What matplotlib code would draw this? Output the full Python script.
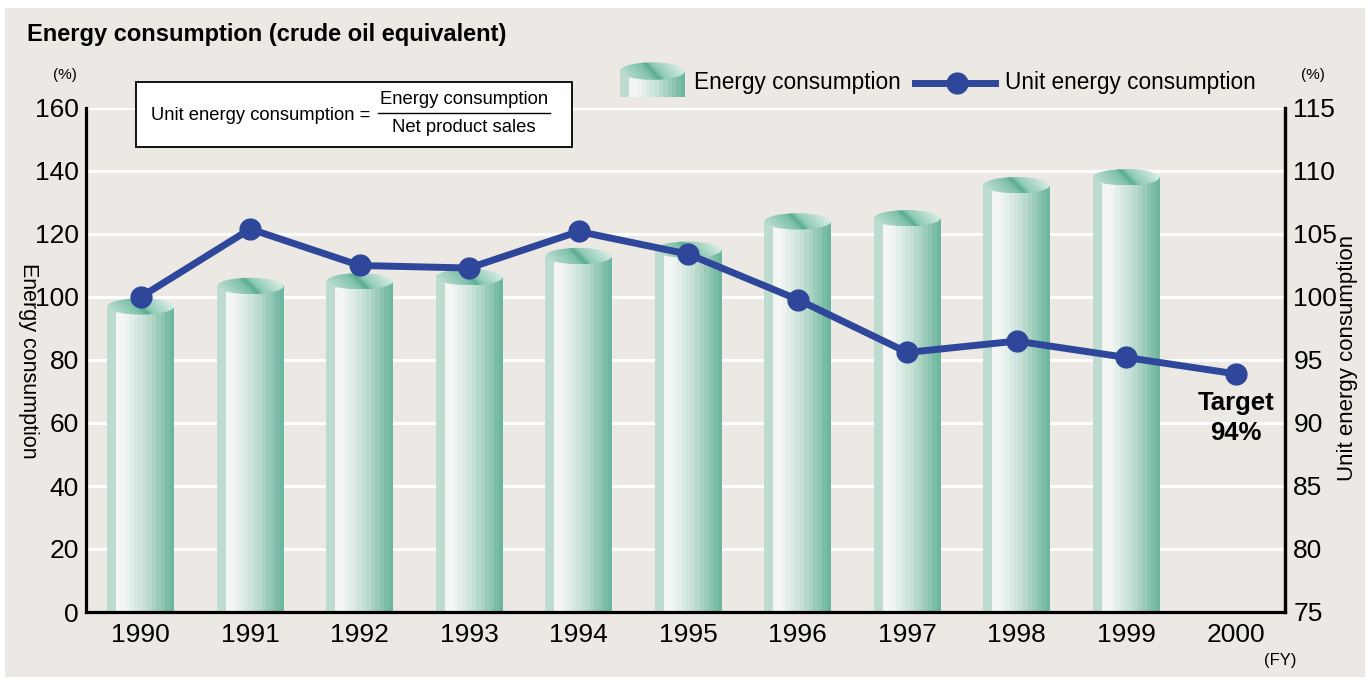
import numpy as np
import matplotlib.pyplot as plt
from matplotlib.patches import Ellipse, Rectangle
from matplotlib.colors import to_rgb
from matplotlib.lines import Line2D

plt.rcParams['font.family'] = ['Liberation Sans', 'DejaVu Sans']

# data
years = ['1990', '1991', '1992', '1993', '1994', '1995', '1996', '1997', '1998', '1999', '2000']
energy = [97, 103.5, 105, 106.3, 113, 115, 124, 125, 135.5, 138]      # %, left axis
unit_energy = [100, 105.4, 102.5, 102.3, 105.2, 103.4, 99.8, 95.6, 96.5, 95.2, 93.9]  # %, right axis

panel_col = '#ece8e4'
line_col = '#2f479b'

# stripe colours of the cylinder body (left -> right)
body_cols = ['#bddccf', '#bddccf', '#f3f6f2', '#f3f6f2', '#eef3ef', '#e2eee9', '#d8e9e2',
             '#cfe4dc', '#c4dfd4', '#b7d9cc', '#a9d2c3', '#9acbb9', '#8bc4b0', '#7bbca6', '#6db6a0']
body_rgb = np.array([to_rgb(c) for c in body_cols])[None, :, :]


def cap_image(n=60):
    xx, yy = np.meshgrid(np.linspace(0, 1, n), np.linspace(0, 1, n))
    t = np.clip(xx + 0.25 * (yy - 0.5), 0, 1)
    stops = [0.0, 0.4, 0.5, 0.6, 1.0]
    cols = np.array([to_rgb(c) for c in ['#b9ddd0', '#80c1ab', '#5aac92', '#8fcbb7', '#d9ece4']])
    img = np.zeros((n, n, 3))
    for k in range(3):
        img[:, :, k] = np.interp(t, stops, cols[:, k])
    return img


CAP = cap_image()


def cylinder(ax, x, h, w, cap_h, z=2):
    ax.imshow(body_rgb, extent=[x - w / 2, x + w / 2, 0, h], aspect='auto',
              interpolation='nearest', zorder=z)
    ell = Ellipse((x, h), w, cap_h, transform=ax.transData, facecolor='none', edgecolor='none')
    ax.add_patch(ell)
    im = ax.imshow(CAP, extent=[x - w / 2, x + w / 2, h - cap_h / 2, h + cap_h / 2],
                   aspect='auto', interpolation='bilinear', zorder=z + 0.1, origin='lower')
    im.set_clip_path(ell)


fig = plt.figure(figsize=(13.7, 6.82), dpi=100, facecolor='white')
fig.add_artist(Rectangle((5 / 1370, 5 / 682), 1360 / 1370, 669 / 682, transform=fig.transFigure,
                         facecolor=panel_col, edgecolor='none', zorder=-10))

ax1 = fig.add_axes([86 / 1370, 1 - 612 / 682, 1199 / 1370, 504 / 682])
ax1.set_facecolor(panel_col)
x = np.arange(len(years))
for i, v in enumerate(energy):
    cylinder(ax1, x[i], v, 0.61, 5.2)
ax1.set_xlim(-0.5, 10.45)
ax1.set_ylim(0, 160)
ax1.set_yticks(range(0, 161, 20))
ax1.set_xticks(x)
ax1.set_xticklabels(years)
ax1.grid(axis='y', color='white', lw=2.2, zorder=0)
ax1.set_axisbelow(True)
ax1.tick_params(length=0, labelsize=19, pad=5)
ax1.tick_params(axis='x', pad=8)
ax1.spines['top'].set_visible(False)
for s in ['left', 'bottom', 'right']:
    ax1.spines[s].set_linewidth(2.3)

ax2 = ax1.twinx()
ax2.plot(x, unit_energy, color=line_col, lw=5, marker='o', markersize=15, zorder=5)
ax2.set_ylim(75, 115)
ax2.set_yticks(range(75, 116, 5))
ax2.tick_params(length=0, labelsize=19, pad=6)
ax2.spines['top'].set_visible(False)
ax2.spines['right'].set_linewidth(2.3)
ax2.text(x[-1], 90.4, 'Target\n94%', ha='center', va='center', fontsize=18.5,
         fontweight='bold', linespacing=1.3)

# titles and axis texts
fig.text(27 / 1370, 1 - 35 / 682, 'Energy consumption (crude oil equivalent)', fontsize=17,
         fontweight='bold', ha='left', va='center')
fig.text(65 / 1370, 1 - 75 / 682, '(%)', fontsize=11, ha='center', va='center')
fig.text(1313 / 1370, 1 - 75 / 682, '(%)', fontsize=11, ha='center', va='center')
fig.text(1280 / 1370, 1 - 660 / 682, '(FY)', fontsize=12, ha='center', va='center')
fig.text(28 / 1370, 1 - 361 / 682, 'Energy consumption', fontsize=15.5, rotation=270,
         ha='center', va='center')
fig.text(1348 / 1370, 1 - 358 / 682, 'Unit energy consumption', fontsize=16, rotation=90,
         ha='center', va='center')

# formula box
fig.add_artist(Rectangle((136 / 1370, 1 - 147 / 682), 436 / 1370, 65 / 682,
                         transform=fig.transFigure, facecolor='white', edgecolor='black', lw=1.3))
fig.text(151 / 1370, 1 - 115 / 682, 'Unit energy consumption =', fontsize=13.2, ha='left', va='center')
fig.text(464 / 1370, 1 - 100 / 682, 'Energy consumption', fontsize=13.3, ha='center', va='center')
fig.text(464 / 1370, 1 - 127 / 682, 'Net product sales', fontsize=13.3, ha='center', va='center')
fig.add_artist(Line2D([378 / 1370, 550 / 1370], [1 - 113 / 682, 1 - 113 / 682],
                      transform=fig.transFigure, color='black', lw=1))

# legend
lax = fig.add_axes([620 / 1370, 1 - 97 / 682, 65 / 1370, 35 / 682])
cylinder(lax, 0.5, 0.74, 1.0, 0.5)
lax.set_xlim(0, 1)
lax.set_ylim(0, 1)
lax.axis('off')
fig.text(694 / 1370, 1 - 83 / 682, 'Energy consumption', fontsize=16.3, ha='left', va='center')
fig.add_artist(Line2D([915 / 1370, 995 / 1370], [1 - 83 / 682, 1 - 83 / 682],
                      transform=fig.transFigure, color=line_col, lw=5))
fig.add_artist(Line2D([957 / 1370], [1 - 83 / 682], transform=fig.transFigure, color=line_col,
                      marker='o', markersize=15))
fig.text(1005 / 1370, 1 - 83 / 682, 'Unit energy consumption', fontsize=16.3, ha='left', va='center')

fig.savefig('out.png', dpi=100, facecolor='white')
